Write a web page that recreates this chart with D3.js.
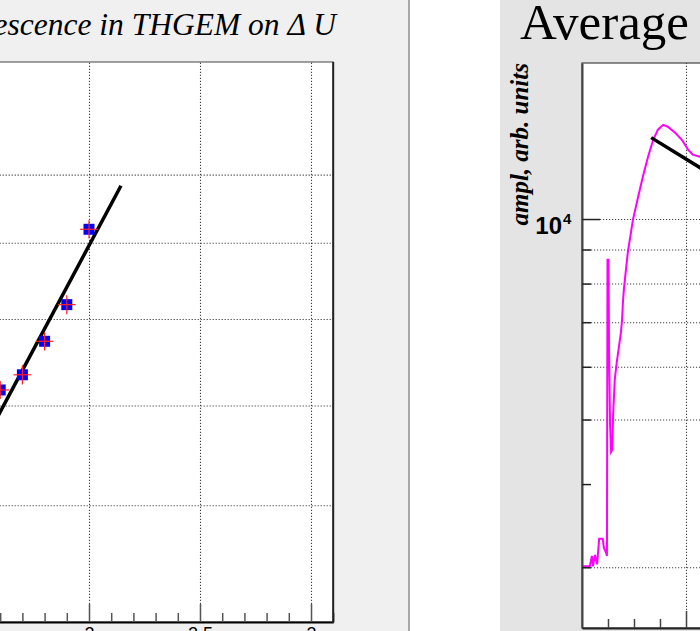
<!DOCTYPE html>
<html>
<head>
<meta charset="utf-8">
<script src="https://cdn.jsdelivr.net/npm/d3@7"></script>
<style>
  body { margin: 0; background: #f0f0f0; }
  svg { display: block; }
</style>
</head>
<body>
<div id="chart"></div>
<script>
// left pad: light yield vs THGEM voltage
const dU = [1.6, 1.7, 1.8, 1.9, 2.0];
const light = [7.17, 7.34, 7.73, 8.18, 9.19];
const dUErr = [0.04, 0.04, 0.04, 0.04, 0.04];
const lightErr = [0.10, 0.11, 0.11, 0.12, 0.13];
const fitU = [1.5, 2.144];
const fitLight = [6.50, 9.83];
const leftXTicks = [2, 2.5, 3];
const leftXLabels = ["2", "2.5", "3"];
const leftYGrid = [6, 7, 8, 9, 10];

// right pad: average signal
const time = [0, 1.5, 1.9, 2.1, 2.5, 2.9, 3.3, 4.0, 4.2, 4.6, 4.8, 4.9, 5.1, 5.2, 5.4, 5.6, 5.8, 6.0, 6.3, 6.7,
              7.1, 7.5, 7.7, 7.9, 8.1, 8.8, 9.8, 10.8, 11.7, 12.7, 13.7, 14.6, 15.6, 16.5, 17.9, 19.2, 20.4, 21.3, 22.7, 23.7];
const ampl = [3010, 3010, 3120, 3010, 3130, 3030, 3310, 3310, 3210, 3160, 3120, 8690, 8690, 6360, 4910, 4470, 4500, 5120, 5740, 6110,
              6430, 6770, 7060, 7570, 7910, 8900, 9980, 10800, 11570, 12400, 13150, 13620, 13850, 13760, 13480, 13150, 12710, 12490, 12400, 12280];
const fitT = [13.3, 30];
const fitAmpl = [13250, 11020];
const rightYTicks = [3000, 4000, 5000, 6000, 7000, 8000, 9000, 10000];
const rightYGrid = [3000, 5000, 6000, 7000, 8000, 9000, 10000];
const rightXMajor = [20];
const rightXMinor = [5, 10, 15, 25, 30];

function AverageSignalViz() {
    const width = 700, height = 631;
    const left = {x0: -66.4, x1: 333.2, top: 62, bottom: 622};
    const right = {x0: 582, x1: 1102, top: 63, bottom: 628};

    const svg = d3.select("#chart")
        .append("svg")
        .attr("width", width)
        .attr("height", height);

    // canvas / pads
    svg.append("rect").attr("width", width).attr("height", height).attr("fill", "#f0f0f0");
    svg.append("rect").attr("x", 410).attr("width", 290).attr("height", height).attr("fill", "#ffffff");
    svg.append("rect").attr("x", 500).attr("width", 200).attr("height", height).attr("fill", "#e4e4e4");
    svg.append("line").attr("x1", 409).attr("x2", 409).attr("y1", 0).attr("y2", height)
        .attr("stroke", "#a8a8a8").attr("stroke-width", 2);

    // ---------- left pad ----------
    const xL = d3.scaleLinear().domain([1.3, 3.1]).range([left.x0, left.x1]);
    const yL = d3.scaleLog().domain([5.01, 11.9]).range([left.bottom, left.top]);

    svg.append("rect")
        .attr("x", left.x0).attr("y", left.top)
        .attr("width", left.x1 - left.x0).attr("height", left.bottom - left.top)
        .attr("fill", "white").attr("stroke", "#444").attr("stroke-width", 1);

    const gridStyle = g => {
        g.select(".domain").remove();
        g.selectAll("line").attr("stroke", "#444").attr("stroke-width", 1.1).attr("stroke-dasharray", "1.2,1.8");
    };

    svg.append("g")
        .attr("transform", `translate(0, ${left.bottom})`)
        .call(d3.axisBottom(xL).tickValues(leftXTicks).tickSize(-(left.bottom - left.top)).tickFormat(""))
        .call(gridStyle);
    svg.append("g")
        .attr("transform", `translate(${left.x0}, 0)`)
        .call(d3.axisLeft(yL).tickValues(leftYGrid).tickSize(-(left.x1 - left.x0)).tickFormat(""))
        .call(gridStyle);

    // fit line
    svg.append("path")
        .datum(fitU.map((u, i) => [u, fitLight[i]]))
        .attr("fill", "none").attr("stroke", "black").attr("stroke-width", 3.5)
        .attr("d", d3.line().x(d => xL(d[0])).y(d => yL(d[1])));

    const pts = dU.map((u, i) => ({u, v: light[i], eu: dUErr[i], ev: lightErr[i]}));
    svg.selectAll(".pt")
        .data(pts).enter()
        .append("rect").attr("class", "pt")
        .attr("x", d => xL(d.u) - 5.5).attr("y", d => yL(d.v) - 5.5)
        .attr("width", 11).attr("height", 11)
        .attr("fill", "#0000ff");
    svg.selectAll(".ex")
        .data(pts).enter()
        .append("line").attr("class", "ex")
        .attr("x1", d => xL(d.u - d.eu)).attr("x2", d => xL(d.u + d.eu))
        .attr("y1", d => yL(d.v)).attr("y2", d => yL(d.v))
        .attr("stroke", "#ff2020").attr("stroke-width", 1.2);
    svg.selectAll(".ey")
        .data(pts).enter()
        .append("line").attr("class", "ey")
        .attr("x1", d => xL(d.u)).attr("x2", d => xL(d.u))
        .attr("y1", d => yL(d.v - d.ev)).attr("y2", d => yL(d.v + d.ev))
        .attr("stroke", "#ff2020").attr("stroke-width", 1.2);

    // bottom axis with ROOT-style inward ticks
    const minorL = d3.range(13, 32).map(d => d / 10).filter(d => !leftXTicks.includes(d));
    svg.append("g")
        .attr("transform", `translate(0, ${left.bottom})`)
        .call(d3.axisBottom(xL).tickValues(minorL).tickSize(-9).tickSizeOuter(0).tickFormat(""))
        .call(g => g.select(".domain").attr("stroke", "black").attr("stroke-width", 2))
        .call(g => g.selectAll("line").attr("stroke", "#555").attr("stroke-width", 1.5));
    svg.append("g")
        .attr("transform", `translate(0, ${left.bottom})`)
        .call(d3.axisBottom(xL).tickValues(leftXTicks).tickSize(-18).tickSizeOuter(0)
            .tickPadding(5).tickFormat((d, i) => leftXLabels[i]))
        .call(g => g.select(".domain").remove())
        .call(g => g.selectAll("line").attr("stroke", "#555").attr("stroke-width", 1.5))
        .call(g => g.selectAll("text").attr("font-family", "Liberation Sans, Arial")
            .attr("font-size", 18).attr("fill", "black"));

    svg.append("line")
        .attr("x1", left.x1).attr("x2", left.x1).attr("y1", left.top).attr("y2", left.bottom + 1)
        .attr("stroke", "#222").attr("stroke-width", 2);

    svg.append("text")
        .attr("x", 336).attr("y", 35)
        .attr("text-anchor", "end")
        .attr("font-family", "Liberation Serif, Times New Roman")
        .attr("font-style", "italic")
        .attr("font-size", 31.5)
        .text("Electroluminescence in THGEM on \u0394 U");

    // ---------- right pad ----------
    const xR = d3.scaleLinear().domain([0, 100]).range([right.x0, right.x1]);
    const yR = d3.scaleLog().domain([2432, 17150]).range([right.bottom, right.top]);

    svg.append("rect")
        .attr("x", right.x0).attr("y", right.top)
        .attr("width", right.x1 - right.x0).attr("height", right.bottom - right.top)
        .attr("fill", "white").attr("stroke", "#444").attr("stroke-width", 1.2);

    svg.append("g")
        .attr("transform", `translate(0, ${right.bottom})`)
        .call(d3.axisBottom(xR).tickValues(rightXMajor).tickSize(-(right.bottom - right.top)).tickFormat(""))
        .call(gridStyle);
    svg.append("g")
        .attr("transform", `translate(${right.x0}, 0)`)
        .call(d3.axisLeft(yR).tickValues(rightYGrid).tickSize(-(right.x1 - right.x0)).tickFormat(""))
        .call(gridStyle);

    svg.append("path")
        .datum(time.map((t, i) => [t, ampl[i]]))
        .attr("fill", "none").attr("stroke", "#ff00ff").attr("stroke-width", 2)
        .attr("stroke-linejoin", "miter")
        .attr("d", d3.line().x(d => xR(d[0])).y(d => yR(d[1])));

    svg.append("path")
        .datum(fitT.map((t, i) => [t, fitAmpl[i]]))
        .attr("fill", "none").attr("stroke", "black").attr("stroke-width", 3.5)
        .attr("d", d3.line().x(d => xR(d[0])).y(d => yR(d[1])));

    // y axis ticks (inward)
    svg.append("g")
        .attr("transform", `translate(${right.x0}, 0)`)
        .call(d3.axisLeft(yR).tickValues(rightYTicks.filter(d => d !== 10000)).tickSize(-9).tickSizeOuter(0).tickFormat(""))
        .call(g => g.select(".domain").attr("stroke", "#444").attr("stroke-width", 2))
        .call(g => g.selectAll("line").attr("stroke", "#222").attr("stroke-width", 1.5));
    svg.append("g")
        .attr("transform", `translate(${right.x0}, 0)`)
        .call(d3.axisLeft(yR).tickValues([10000]).tickSize(-18).tickSizeOuter(0).tickFormat(""))
        .call(g => g.select(".domain").remove())
        .call(g => g.selectAll("line").attr("stroke", "#222").attr("stroke-width", 1.5));

    svg.append("text")
        .attr("x", 562).attr("y", yR(10000) + 15)
        .attr("text-anchor", "end")
        .attr("font-family", "Liberation Sans, Arial")
        .attr("font-weight", "bold")
        .attr("font-size", 24)
        .attr("fill", "black")
        .text("10");
    svg.append("text")
        .attr("x", 563).attr("y", yR(10000) + 5)
        .attr("font-family", "Liberation Sans, Arial")
        .attr("font-weight", "bold")
        .attr("font-size", 15)
        .text("4");

    // x axis ticks (inward)
    svg.append("g")
        .attr("transform", `translate(0, ${right.bottom})`)
        .call(d3.axisBottom(xR).tickValues(rightXMinor).tickSize(-9).tickSizeOuter(0).tickFormat(""))
        .call(g => g.select(".domain").attr("stroke", "#222").attr("stroke-width", 2))
        .call(g => g.selectAll("line").attr("stroke", "#444").attr("stroke-width", 1.5));
    svg.append("g")
        .attr("transform", `translate(0, ${right.bottom})`)
        .call(d3.axisBottom(xR).tickValues(rightXMajor).tickSize(-17).tickSizeOuter(0).tickFormat(""))
        .call(g => g.select(".domain").remove())
        .call(g => g.selectAll("line").attr("stroke", "#444").attr("stroke-width", 1.5));

    svg.append("text")
        .attr("transform", "translate(528, 63) rotate(-90)")
        .attr("text-anchor", "end")
        .attr("font-family", "Liberation Serif, Times New Roman")
        .attr("font-style", "italic")
        .attr("font-weight", "bold")
        .attr("font-size", 25)
        .text("ampl, arb. units");

    svg.append("text")
        .attr("x", 520).attr("y", 39)
        .attr("font-family", "Liberation Serif, Times New Roman")
        .attr("font-size", 51)
        .text("Average");
}

AverageSignalViz();
</script>
</body>
</html>
